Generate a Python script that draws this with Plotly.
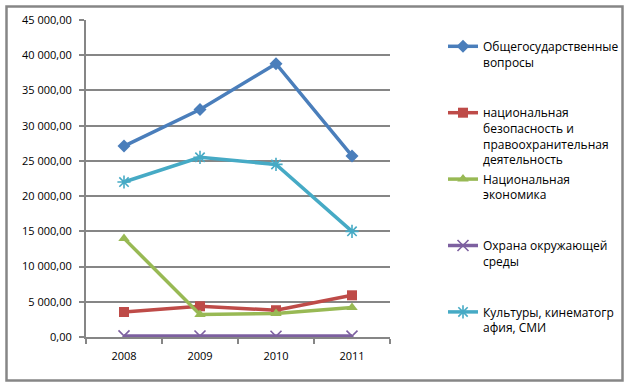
import plotly.graph_objects as go

years = ["2008", "2009", "2010", "2011"]
s_general = [27100, 32300, 38800, 25700]
s_security = [3550, 4360, 3800, 5920]
s_economy = [14000, 3200, 3350, 4200]
s_environment = [150, 140, 100, 130]
s_culture = [22000, 25500, 24500, 15000]

names = [
    "Общегосударственные<br>вопросы<br> <br> ",
    "национальная<br>безопасность и<br>правоохранительная<br>деятельность",
    "Национальная<br>экономика<br> <br> ",
    "Охрана окружающей<br>среды<br> <br> ",
    "Культуры, кинематогр<br>афия, СМИ",
]
series = [s_general, s_security, s_economy, s_environment, s_culture]
colors = ["#4A7EBB", "#BE4B48", "#98B954", "#7D60A0", "#46AAC5"]
symbols = ["diamond", "square", "triangle-up", "x-thin-open", "asterisk-open"]
msizes = [10, 10, 10, 11, 11]

W, H = 627, 385
L, R, T, B = 86, 237, 20, 48
pw, ph = W - L - R, H - T - B

fig = go.Figure()
for i, (nm, ys, c, sym, ms) in enumerate(zip(names, series, colors, symbols, msizes)):
    marker = dict(symbol=sym, size=ms, color=c)
    if "open" in sym:
        marker["line"] = dict(color=c, width=1.6)
    fig.add_trace(go.Scatter(x=years, y=ys, name=nm, mode="lines+markers",
                             legendgroup=f"g{i}",
                             line=dict(color=c, width=3.5), marker=marker))

def px2paper_x(px):
    return (px - L) / pw

def px2paper_y(py):
    return (H - B - py) / ph

fig.add_shape(type="rect", xref="paper", yref="paper",
              x0=px2paper_x(6.5), x1=px2paper_x(622.5),
              y0=px2paper_y(380.5), y1=px2paper_y(6.5),
              line=dict(color="#868686", width=2.5), layer="below")

fig.update_layout(
    width=W, height=H,
    margin=dict(l=L, r=R, t=T, b=B, autoexpand=False),
    paper_bgcolor="white", plot_bgcolor="white",
    separators=", ",
    font=dict(family="Open Sans", size=11, color="#000000"),
    showlegend=True,
    legend=dict(x=px2paper_x(443), y=px2paper_y(32), xanchor="left", yanchor="top",
                valign="top", tracegroupgap=1, bgcolor="rgba(0,0,0,0)",
                font=dict(family="Open Sans", size=12, color="#000000"),
                itemwidth=30),
    xaxis=dict(type="category", showgrid=False, showline=True, linecolor="#868686",
               linewidth=2, ticks="outside", tickson="boundaries", ticklen=5,
               tickcolor="#868686", tickwidth=2, range=[-0.5, 3.5],
               ticklabelstandoff=8,
               tickfont=dict(size=11, color="#000000")),
    yaxis=dict(range=[0, 45000], dtick=5000, tickformat=",.2f", showgrid=True,
               gridcolor="#868686", gridwidth=2, showline=True, linecolor="#868686",
               linewidth=2, ticks="outside", ticklen=5, tickcolor="#868686",
               tickwidth=2, zeroline=False, ticklabelstandoff=5,
               tickfont=dict(size=11, color="#000000")),
)

fig.write_html("out.html", config={"displayModeBar": False},
               post_script="document.body.style.margin='0px';document.body.style.overflow='hidden';")
